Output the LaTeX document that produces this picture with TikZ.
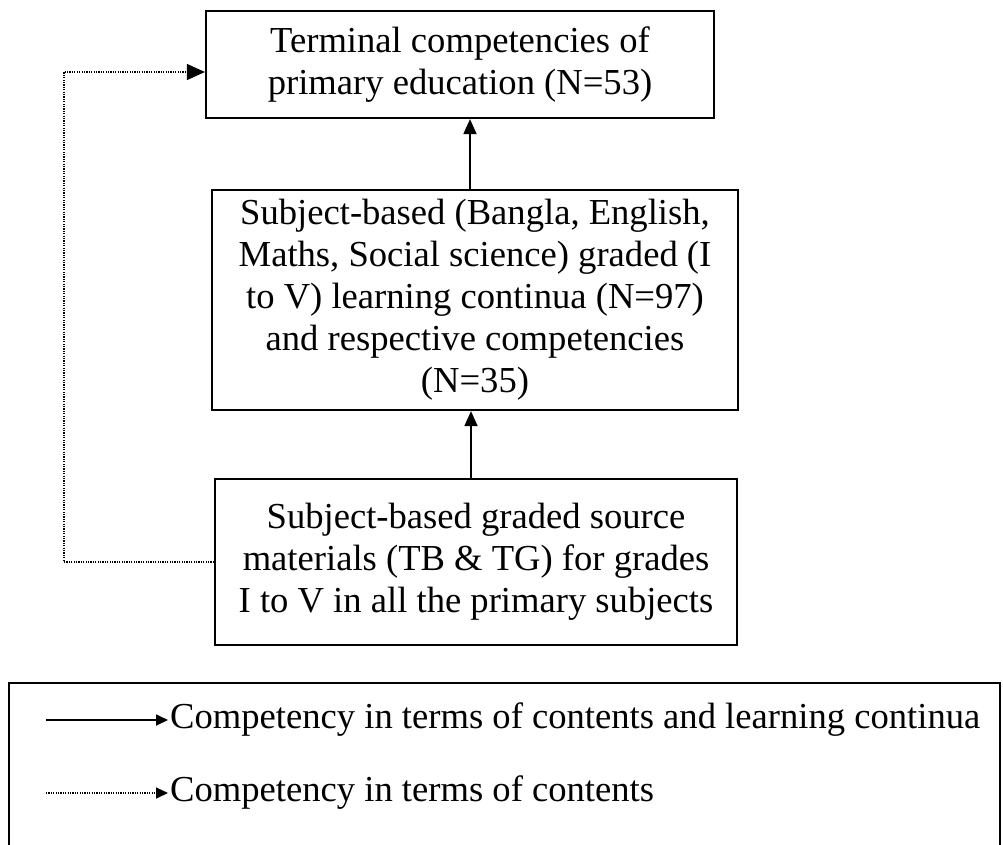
\documentclass[tikz,border=0pt]{standalone}
\usepackage{fontspec}
\setmainfont{Liberation Serif}
\usetikzlibrary{arrows.meta}
\begin{document}
\begin{tikzpicture}[x=1pt,y=-1pt,
  box/.style={draw,line width=2.2pt,align=center,inner sep=0pt,
    font=\fontsize{36.6}{42}\selectfont},
  solidarrow/.style={line width=1.8pt,-{Triangle[length=15pt,width=13pt]}},
  dotarrow/.style={line width=1.4pt,dash pattern=on 1.2pt off 1.2pt,-{Triangle[length=18pt,width=16pt]}},
  legsolid/.style={line width=1.8pt,-{Triangle[length=12pt,width=11pt]}},
  legdot/.style={line width=1.4pt,dash pattern=on 1.2pt off 1.2pt,-{Triangle[length=12pt,width=11pt]}},
  legtext/.style={anchor=west,inner sep=0pt,font=\fontsize{36.6}{40}\selectfont}]
\useasboundingbox (0,0) rectangle (1003,844);
\node[box,minimum width=508pt,minimum height=107pt] (top) at (460,64.5)
  {Terminal competencies of\\primary education (N=53)};
\node[box,minimum width=526pt,minimum height=220pt] (mid) at (475,300)
  {Subject-based (Bangla, English,\\Maths, Social science) graded (I\\to V) learning continua (N=97)\\and respective competencies\\(N=35)};
\node[box,minimum width=522pt,minimum height=166pt] (bot) at (476,562)
  {Subject-based graded source\\materials (TB \& TG) for grades\\I to V in all the primary subjects};
\coordinate (a1) at (470,190);
\coordinate (a2) at (471,479);
\draw[solidarrow] (a1) -- (a1 |- top.south);
\draw[solidarrow] (a2) -- (a2 |- mid.south);
\draw[dotarrow] (bot.west) -- ++(-150,0) |- ([yshift=-7.5pt]top.west);
\node[draw,line width=2.2pt,minimum width=991pt,minimum height=177pt,inner sep=0pt] (leg) at (504.5,771.5) {};
\coordinate (s1) at (46,720);
\coordinate (s2) at (46,793);
\node[legtext] (l1) at (170,720) {Competency in terms of contents and learning continua};
\node[legtext] (l2) at (170,793) {Competency in terms of contents};
\draw[legsolid] (s1) -- ([xshift=-2pt]l1.west);
\draw[legdot] (s2) -- ([xshift=-2pt]l2.west);
\end{tikzpicture}
\end{document}
